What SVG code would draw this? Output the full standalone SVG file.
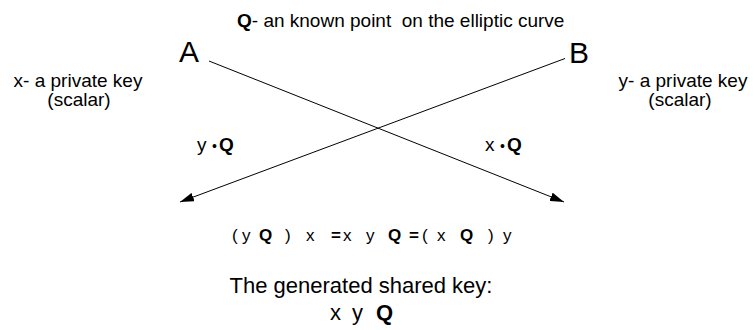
<svg xmlns="http://www.w3.org/2000/svg" width="754" height="330" viewBox="0 0 754 330">
<style>
text{font-family:"Liberation Sans",Arial,sans-serif;fill:#000}
.t{font-size:19px}
.b{font-weight:bold}
.lbl{font-size:30px}
.eq{font-size:17px}
.k{font-size:22px}
.c{stroke:#000;stroke-width:1;fill:none}
</style>
<defs>
<marker id="ah" markerWidth="14" markerHeight="9" refX="14" refY="4.5" orient="auto" markerUnits="userSpaceOnUse">
<path d="M0,0 L14,4.5 L0,9 Z" fill="#000"/>
</marker>
</defs>
<g id="title"><text class="t" x="237" y="27" xml:space="preserve"><tspan class="b">Q</tspan>- an known point  on the elliptic curve</text></g>
<g id="nodeA"><text class="lbl" x="179" y="62">A</text></g>
<g id="nodeB"><text class="lbl" x="569" y="63">B</text></g>
<g id="keyX"><text class="t" x="78" y="87" text-anchor="middle">x- a private key</text><text class="t" x="79" y="106" text-anchor="middle">(scalar)</text></g>
<g id="keyY"><text class="t" x="683" y="87" text-anchor="middle">y- a private key</text><text class="t" x="680" y="106" text-anchor="middle">(scalar)</text></g>
<g id="connectors">
<line class="c" x1="209" y1="61" x2="564" y2="202" marker-end="url(#ah)"/>
<line class="c" x1="565" y1="58.5" x2="180" y2="202" marker-end="url(#ah)"/>
</g>
<g id="labelYQ"><text class="t" y="151"><tspan x="197">y</tspan><tspan x="212" font-size="14">•</tspan><tspan x="219" class="b">Q</tspan></text></g>
<g id="labelXQ"><text class="t" y="151"><tspan x="485">x</tspan><tspan x="500" font-size="14">•</tspan><tspan x="507" class="b">Q</tspan></text></g>
<g id="equation"><text class="eq" y="241">
<tspan x="232">(</tspan><tspan x="242">y</tspan><tspan x="259" class="b">Q</tspan><tspan x="285">)</tspan><tspan x="306">x</tspan><tspan x="331" class="b">=</tspan><tspan x="343">x</tspan><tspan x="366">y</tspan><tspan x="388" class="b">Q</tspan><tspan x="409" class="b">=</tspan><tspan x="422">(</tspan><tspan x="437">x</tspan><tspan x="460" class="b">Q</tspan><tspan x="488">)</tspan><tspan x="503">y</tspan>
</text></g>
<g id="shared"><text class="k" x="361" y="293" text-anchor="middle">The generated shared key:</text>
<text class="k" y="320"><tspan x="330">x</tspan><tspan x="352">y</tspan><tspan x="376" class="b">Q</tspan></text></g>
</svg>
